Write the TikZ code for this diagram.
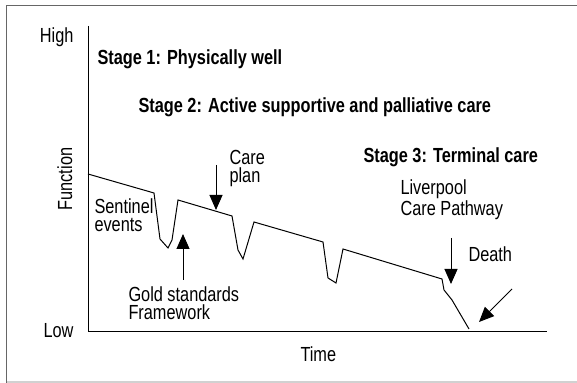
\documentclass[tikz,border=0pt]{standalone}
\usepackage{fontspec}
\setmainfont[FakeStretch=0.8]{Liberation Sans}
\usetikzlibrary{arrows.meta}

\begin{document}
\begin{tikzpicture}[x=0.5pt, y=-0.5pt, line width=0.5pt, >={Triangle[width=6.5pt,length=7.5pt]},
	every node/.style={inner sep=0pt, font=\fontsize{10.2}{9.2}\selectfont},
	lbl/.style={anchor=base west, align=left},
	stage/.style={anchor=base west, font=\fontsize{10.2}{9.2}\selectfont\bfseries}]
	\useasboundingbox (0,0) rectangle (577,383);

	% frame
	\draw[black!60, line width=0.8pt] (6.5,383) -- (6.5,5.5) -- (577,5.5);
	\draw[black!18, line width=0.8pt] (6.5,382) -- (577,382);

	% axes
	\draw (88,26) -- (88,332) -- (547,332);
	\node[anchor=base east] at (74,43)  (high) {High};
	\node[anchor=base east] at (74,338) (low)  {Low};
	\node[anchor=base, rotate=90] at (72,179) (function) {Function};
	\node[anchor=base west] at (300,362) (time) {Time};

	% stages
	\node[stage] at (97,65)   (stage1) {Stage 1: Physically well};
	\node[stage] at (138,113) (stage2) {Stage 2: Active supportive and palliative care};
	\node[stage] at (363,163) (stage3) {Stage 3: Terminal care};

	% trajectory
	\draw (88,174) -- (154,193) -- (160,239) -- (168,248) -- (172,240) -- (178,200)
		-- (232,216) -- (238,250) -- (243,259) -- (254,222)
		-- (323,242) -- (328,278) -- (336,283) -- (343,249)
		-- (442,279) -- (444,290) -- (452,300) -- (469,329);

	% labels (base = last line)
	\node[lbl] at (94,232)  (sentinel)  {Sentinel\\events};
	\node[lbl] at (229,183) (careplan)  {Care\\plan};
	\node[lbl] at (128,320) (gold)      {Gold standards\\Framework};
	\node[lbl] at (400,216) (liverpool) {Liverpool\\Care Pathway};
	\node[lbl] at (468,262) (death)     {Death};

	% arrows
	\coordinate (careplan tip)  at (216,210);
	\coordinate (gold tip)      at (183,234);
	\coordinate (liverpool tip) at (451,284);
	\coordinate (death tip)     at (479,322);
	\draw[->] (216,165) -- (careplan tip);
	\draw[->] (183,280) -- (gold tip);
	\draw[->] (451,238) -- (liverpool tip);
	\draw[->] (512,289) -- (death tip);
\end{tikzpicture}
\end{document}
